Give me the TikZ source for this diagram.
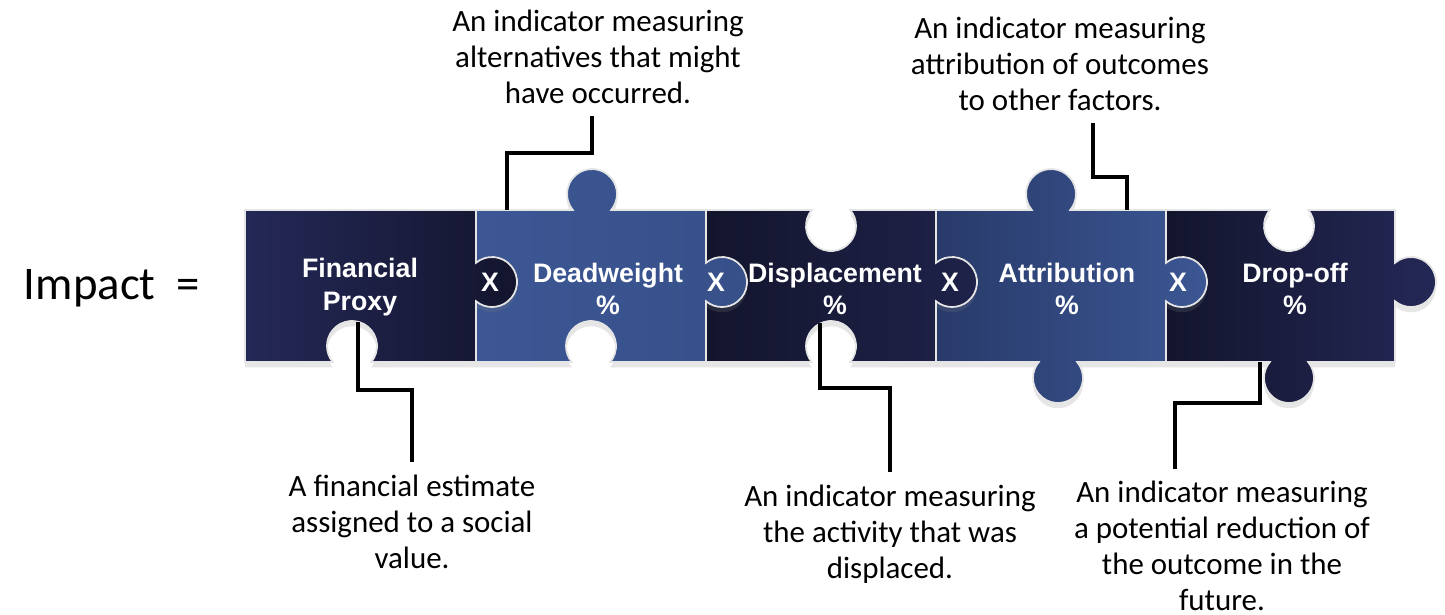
\documentclass[tikz,border=0pt]{standalone}
\usepackage{fontspec}
\setmainfont{Carlito}
\newfontfamily\piecefont{Liberation Sans}
\usetikzlibrary{calc,shadows}

\definecolor{navylight}{RGB}{36,40,86}
\definecolor{navydark}{RGB}{19,21,45}
\definecolor{steellight}{RGB}{60,87,148}
\definecolor{steeldark}{RGB}{40,58,106}

% knobs and sockets of a piece, c = centre of the knob
\newcommand{\toptab}[1]{-- ({#1-19.2},404) arc[start angle=219.8,end angle=-39.8,radius=25]}
\newcommand{\tophole}[1]{-- ({#1-19.2},404) arc[start angle=140.2,end angle=399.8,radius=25]}
\newcommand{\righttab}[1]{-- (#1,351.2) arc[start angle=129.8,end angle=-129.8,radius=25]}
\newcommand{\bottomtab}[1]{-- ({#1+19.2},252) arc[start angle=39.8,end angle=-219.8,radius=25]}
\newcommand{\bottomhole}[1]{-- ({#1+19.2},252) arc[start angle=-39.8,end angle=219.8,radius=25]}

\tikzset{
  piece/.style={draw=white!80!gray, line width=0.5pt,
    drop shadow={opacity=0.2, shadow xshift=0pt, shadow yshift=-1.5pt}},
  lead/.style={draw=black, line width=0.9pt},
  note/.style={align=center, inner sep=0pt, outer sep=3.5pt, anchor=base,
    font=\fontsize{8.8}{10.2}\selectfont},
  word/.style={align=center, text=white,
    font=\piecefont\bfseries\fontsize{7.6}{9.3}\selectfont},
}

\begin{document}
\begin{tikzpicture}[x=0.01cm,y=0.01cm]
  \useasboundingbox (0,0) rectangle (1445,614);

  \path[piece, left color=navydark, right color=navylight]
    (1166,252) -- (1166,404) \tophole{1289} -- (1395,404) \righttab{1395}
    -- (1395,252) \bottomtab{1289} -- cycle;
  \path[piece, left color=steeldark, right color=steellight]
    (936,252) -- (936,404) \toptab{1051} -- (1166,404) \righttab{1166}
    -- (1166,252) \bottomtab{1058} -- cycle;
  \path[piece, left color=navydark, right color=navylight!70!navydark]
    (706,252) -- (706,404) \tophole{831} -- (936,404) \righttab{936}
    -- (936,252) \bottomhole{831} -- cycle;
  \path[piece, left color=steellight, right color=steellight!75!steeldark]
    (476,252) -- (476,404) \toptab{592} -- (706,404) \righttab{706}
    -- (706,252) \bottomhole{591} -- cycle;
  \path[piece, left color=navylight, right color=navydark]
    (245,252) -- (245,404) -- (476,404) \righttab{476}
    -- (476,252) \bottomhole{352} -- cycle;

  \coordinate (fp-link) at (358,292);
  \coordinate (dw-link) at (507,404);
  \coordinate (dp-link) at (820,291);
  \coordinate (at-link) at (1127,404);
  \coordinate (do-link) at (1260,252);

  \node[font=\fontsize{13.3}{16}\selectfont] (impact) at (112,326) {Impact\ \ =};

  \begin{scope}[every node/.style={word}]
    \node (fp) at (360,327) {Financial\\Proxy};
    \node (dw) at (608,325) {Deadweight\\\%};
    \node (dp) at (835,325) {Displacement\\\%};
    \node (at) at (1067,325) {Attribution\\\%};
    \node (do) at (1295,325) {Drop-off\\\%};
    \node (x1) at (490,332) {X};
    \node (x2) at (716,332) {X};
    \node (x3) at (950,332) {X};
    \node (x4) at (1178,332) {X};
  \end{scope}

  \begin{scope}[every node/.style={note}]
    \node (a1) at (412,46) {A financial estimate\\assigned to a social\\value.};
    \node (a2) at (598,511) {An indicator measuring\\alternatives that might\\have occurred.};
    \node (a3) at (890,36) {An indicator measuring\\the activity that was\\displaced.};
    \node (a4) at (1060,504) {An indicator measuring\\attribution of outcomes\\to other factors.};
    \node (a5) at (1222,4) {An indicator measuring\\a potential reduction of\\the outcome in the\\future.};
  \end{scope}

  \draw[lead] (fp-link) -- ++(0,-68) -| (a1.north);
  \draw[lead] ($(a2.south)+(-6,0)$) |- ($(dw-link)+(0,57)$) -- (dw-link);
  \draw[lead] (dp-link) -- ++(0,-65) -| (a3.north);
  \draw[lead] ($(a4.south)+(33,0)$) |- ($(at-link)+(0,33)$) -- (at-link);
  \draw[lead] (do-link) -- ++(0,-41) -| ($(a5.north)+(-47,0)$);

\end{tikzpicture}
\end{document}
